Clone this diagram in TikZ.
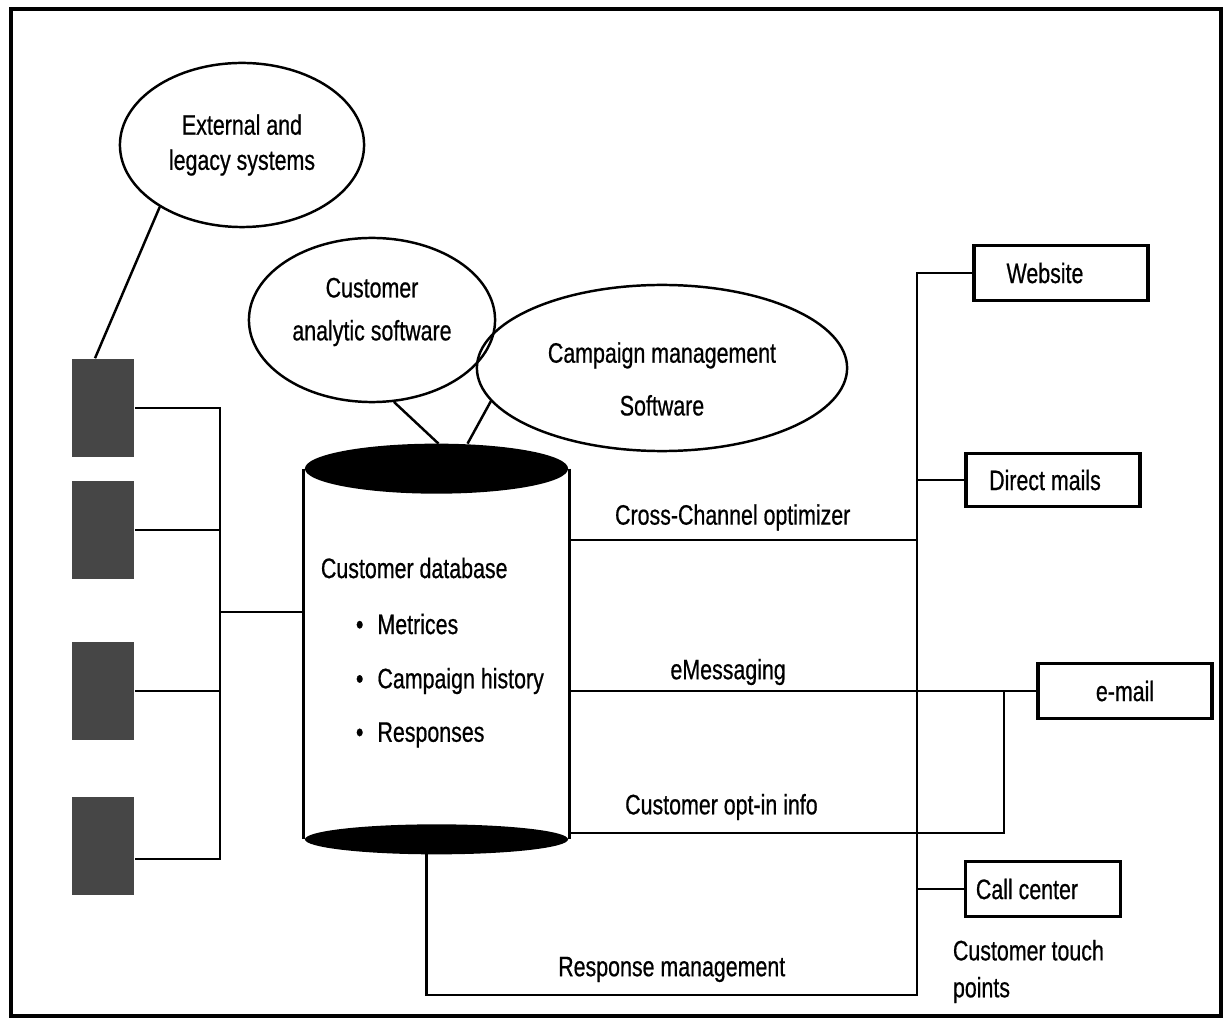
\documentclass[tikz,border=0pt]{standalone}
\usepackage{fontspec}
\setmainfont{Liberation Sans}[FakeStretch=0.76, FakeBold=0.6]
\usepackage{tikz}
\usetikzlibrary{shapes.geometric}
\definecolor{squaregray}{HTML}{464646}

\begin{document}
\begin{tikzpicture}[x=0.01cm, y=-0.01cm, line width=0.7pt,
	font=\fontsize{8}{10}\selectfont,
	bubble/.style={draw, ellipse, inner sep=0pt, align=center},
	touchbox/.style={draw, line width=0.9pt, inner sep=0pt, minimum width=1.74cm, minimum height=0.55cm},
	source/.style={fill=squaregray, inner sep=0pt, minimum width=0.62cm, minimum height=0.97cm}]
	% Fix the page and draw the frame
	\useasboundingbox (0,0) rectangle (1231,1019);
	\draw[line width=0.9pt] (11,9) rectangle (1221,1016);
	
	% Define the software bubbles
	\node[bubble, minimum width=2.44cm, minimum height=1.64cm] (ext) at (242,145) {External and\\legacy systems};
	\node[bubble, minimum width=2.46cm, minimum height=1.64cm] (anal) at (372,320) {};
	\node[align=center] (analtext) at (372,312) {Customer\\[2.2pt]analytic software};
	\node[bubble, minimum width=3.70cm, minimum height=1.66cm] (camp) at (662,368) {};
	\node[align=center] (camptext) at (662,379) {Campaign management\\[5pt]Software};
	
	% Define the data sources on the left
	\node[source] (s1) at (103,408) {};
	\node[source] (s2) at (103,530) {};
	\node[source] (s3) at (103,691) {};
	\node[source] (s4) at (103,846) {};
	
	% Define the customer database
	\node[inner sep=0pt, minimum width=2.63cm, minimum height=3.68cm] (db) at (436.5,654) {};
	\coordinate (dbtop) at ([yshift=0.25cm]db.north);
	\coordinate (dbbot) at ([yshift=-0.15cm]db.south);
	\draw (db.north west) -- (db.south west);
	\draw (db.north east) -- (db.south east);
	\fill (db.north) ellipse [x radius=1.315cm, y radius=0.25cm];
	\fill (db.south) ellipse [x radius=1.315cm, y radius=0.15cm];
	\node[anchor=west] (dbname) at (308,568) {Customer database};
	\node[anchor=west] (m1) at (343,624) {\textbullet\hspace{4pt}Metrices};
	\node[anchor=west] (m2) at (343,681) {\textbullet\hspace{4pt}Campaign history};
	\node[anchor=west] (m3) at (343,735) {\textbullet\hspace{4pt}Responses};
	
	% Define the customer touch points
	\node[touchbox] (web) at (1061,273) {Website\kern0.32cm};
	\node[touchbox, minimum height=0.53cm] (dm) at (1053,480) {Direct mails\kern0.16cm};
	\node[touchbox] (email) at (1125,691) {e-mail};
	\node[touchbox, minimum width=1.55cm] (call) at (1043,889) {Call center\kern0.32cm};
	\node[anchor=north west, align=left, font=\fontsize{8}{10.5}\selectfont] (touch) at (940,927) {Customer touch\\points};
	
	% Draw the links to the bubbles
	\draw (ext.217) -- ([xshift=-0.08cm]s1.north);
	\draw (anal.285) -- ([xshift=0.02cm]dbtop);
	\draw (camp.191) -- ([xshift=0.31cm]dbtop);
	
	% Draw the data sources bus
	\coordinate (ljoin) at (220,612);
	\draw (s1.east) -| (ljoin) |- ([yshift=-0.13cm]s4.east);
	\draw (s2.east) -- (s2.east -| ljoin);
	\draw (s3.east) -- (s3.east -| ljoin);
	\draw (ljoin) -- (ljoin -| db.west);
	
	% Draw the channels on the right
	\coordinate (rbot) at (917,995);
	\draw (web.west) -| (rbot) -| node[pos=0.25, above] {Response management} ([xshift=-0.1cm]dbbot);
	\draw (dm.west) -- (dm.west -| rbot);
	\draw (call.west) -- (call.west -| rbot);
	
	\coordinate (dbcc) at ([yshift=1.14cm]db.east);
	\draw (dbcc) -- node[pos=0.47, above=-1pt] {Cross-Channel optimizer} (dbcc -| rbot);
	
	\coordinate (dbem) at (db.east |- email.west);
	\draw (dbem) -- node[pos=0.34, above=-2pt] {eMessaging} (email.west);
	
	\coordinate (dbopt) at ([yshift=-1.79cm]db.east);
	\coordinate (optj) at (1004,691);
	\draw (dbopt) -- node[pos=0.35, above] {Customer opt-in info} (dbopt -| optj) -- (optj);
\end{tikzpicture}
\end{document}
